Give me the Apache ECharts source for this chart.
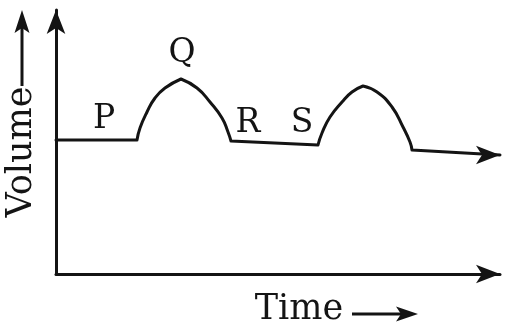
<!DOCTYPE html>
<html>
<head>
<meta charset="utf-8">
<style>
  html, body { margin: 0; padding: 0; background: #fff; }
  #chart { width: 506px; height: 329px; }
</style>
<script src="https://cdn.jsdelivr.net/npm/echarts@6/dist/echarts.min.js"></script>
</head>
<body>
<div id="chart"></div>
<script>
"use strict";

// volume trace, [time, volume] in arbitrary units
var restP = [[0, 134], [81, 134]];
var riseQ = [[81, 134], [84, 146], [91, 162], [99, 176], [109, 186], [125, 195]];
var fallQ = [[125, 195], [141, 186], [154, 172], [166, 156], [172, 142], [175, 133]];
var restR = [[175, 133], [262, 129]];
var riseS = [[262, 129], [266, 141], [274, 157], [286, 172], [296, 182], [307, 188]];
var fallS = [[307, 188], [321, 182], [336, 167], [347, 147], [354, 132], [356, 124]];
var restEnd = [[356, 124], [444, 119]];

var markNames = ["P", "Q", "R", "S"];
var markTimes = [48, 126, 192, 246];
var markVolumes = [155, 221, 151, 151];

var ink = "#141414";
var serif = "DejaVu Serif";

var chart = echarts.init(document.getElementById("chart"));

// each piece is smoothed on its own so corners and peaks stay sharp
var pieces = [restP, riseQ, fallQ, restR, riseS, fallS, restEnd];
var trace = [];
pieces.forEach(function (piece, k) {
  if (k > 0) trace.push("-");
  piece.forEach(function (p) { trace.push(p); });
});
trace[trace.length - 1] = {
  value: trace[trace.length - 1], symbol: "arrow", symbolSize: [14, 24], symbolRotate: -90,
  itemStyle: { color: ink }
};

var axisBase = {
  type: "value",
  axisLine: { show: true, symbol: ["none", "arrow"], symbolSize: [14, 24], lineStyle: { color: ink, width: 3 } },
  axisTick: { show: false },
  axisLabel: { show: false },
  splitLine: { show: false }
};

chart.setOption({
  animation: false,
  backgroundColor: "#fff",
  grid: { left: 56, right: 6, top: 10, bottom: 55 },
  xAxis: Object.assign({ min: 0, max: 444 }, axisBase),
  yAxis: Object.assign({ min: 0, max: 264 }, axisBase),
  series: [
    {
      type: "line", data: trace, symbol: "none", smooth: 0.5, connectNulls: false, clip: false,
      lineStyle: { color: ink, width: 3, cap: "round", join: "round" }
    },
    {
      type: "scatter", symbolSize: 0, itemStyle: { color: ink, opacity: 1 },
      data: markNames.map(function (n, i) { return { name: n, value: [markTimes[i], markVolumes[i]] }; }),
      label: { show: true, position: "inside", formatter: "{b}", color: ink, opacity: 1, textBorderWidth: 0, fontFamily: serif, fontSize: 33 }
    }
  ],
  graphic: [
    { type: "text", x: 22, y: 152, rotation: Math.PI / 2,
      style: { text: "Volume", fill: ink, font: "35px " + serif, align: "center", verticalAlign: "middle" } },
    { type: "line", shape: { x1: 22, y1: 86, x2: 22, y2: 26 }, style: { stroke: ink, lineWidth: 3 } },
    { type: "polygon", shape: { points: [[22, 10], [14.5, 33], [22, 28], [29.5, 33]] }, style: { fill: ink } },
    { type: "text", x: 299, y: 310,
      style: { text: "Time", fill: ink, font: "35px " + serif, align: "center", verticalAlign: "middle" } },
    { type: "line", shape: { x1: 352, y1: 314, x2: 404, y2: 314 }, style: { stroke: ink, lineWidth: 3 } },
    { type: "polygon", shape: { points: [[418, 314], [396, 306.5], [401, 314], [396, 321.5]] }, style: { fill: ink } }
  ]
});
</script>
</body>
</html>
